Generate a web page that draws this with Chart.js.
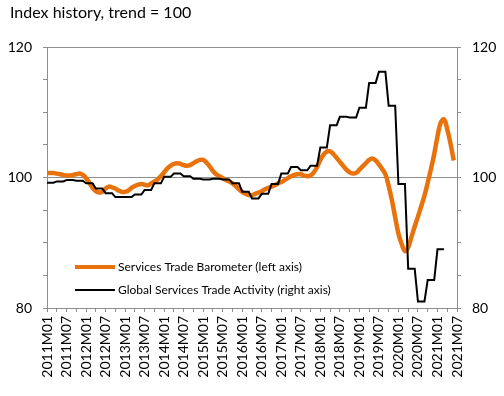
<!DOCTYPE html>
<html>
<head>
<meta charset="utf-8">
<script src="https://cdn.jsdelivr.net/npm/chart.js@4.4.0/dist/chart.umd.min.js"></script>
<style>
  body { margin: 0; background: #fff; }
  #wrap { width: 504px; height: 396px; }
</style>
</head>
<body>
<div id="wrap"><canvas id="myChart" width="504" height="396"></canvas></div>
<script>
// month labels 2011M01 .. 2021M07
const years = [2011, 2012, 2013, 2014, 2015, 2016, 2017, 2018, 2019, 2020, 2021];
const monthLabels = [];
years.forEach(y => {
  for (let m = 1; m <= 12; m++) {
    if (y === 2021 && m > 7) break;
    monthLabels.push(y + 'M' + (m < 10 ? '0' + m : m));
  }
});

// Services Trade Barometer (left axis), monthly 2011M01..2021M06
const barometer = [
  100.7, 100.7, 100.7, 100.6, 100.5, 100.4, 100.3, 100.3, 100.4, 100.5, 100.6, 100.4,
  99.9, 99.2, 98.4, 97.9, 97.7, 97.8, 98.3, 98.6, 98.5, 98.3, 98.0, 97.8,
  97.8, 98.0, 98.4, 98.7, 98.9, 99.0, 98.9, 98.8, 99.1, 99.4, 99.7, 100.2,
  100.8, 101.4, 101.8, 102.1, 102.2, 102.1, 101.9, 101.8, 101.9, 102.2, 102.5, 102.7,
  102.7, 102.3, 101.7, 101.0, 100.5, 100.2, 99.9, 99.6, 99.4, 99.1, 98.7, 98.2,
  97.8, 97.5, 97.3, 97.3, 97.5, 97.7, 97.9, 98.2, 98.4, 98.6, 98.8, 99.1,
  99.3, 99.6, 99.9, 100.2, 100.4, 100.5, 100.5, 100.3, 100.2, 100.3, 100.8, 101.6,
  102.7, 103.5, 104.0, 104.0, 103.6, 103.0, 102.4, 101.8, 101.2, 100.8, 100.6, 100.7,
  101.2, 101.7, 102.2, 102.7, 102.9, 102.6, 102.0, 101.3, 100.5, 98.7, 96.5, 93.9,
  91.4, 89.8, 88.7, 89.3, 90.9, 92.5, 94.0, 95.6, 97.2, 99.2, 101.3, 103.6,
  106.3, 108.4, 108.9, 107.4, 105.2, 102.6
];

// Global Services Trade Activity (right axis), quarterly 2011Q1..2021Q1
const activityQ = [
  99.2, 99.4, 99.6, 99.5,
  99.1, 98.3, 97.6, 97.0,
  97.0, 97.4, 98.1, 99.1,
  100.1, 100.6, 100.2, 99.8,
  99.7, 99.8, 99.7, 99.1,
  97.8, 96.8, 97.5, 99.0,
  100.6, 101.6, 101.1, 101.8,
  104.6, 108.0, 109.3, 109.2,
  110.7, 114.5, 116.2, 111.0,
  99.0, 86.0, 81.0, 84.3,
  89.0
];
// each quarter shown over its three months
const activity = activityQ.flatMap(v => [v, v, v]);

const ORANGE = '#e8720c';
const GRAY = '#8e8e8e';
const FONT = 'Lato';

const titlePlugin = {
  id: 'topTitle',
  afterDraw(chart) {
    const ctx = chart.ctx;
    ctx.save();
    ctx.font = '16px ' + FONT;
    ctx.fillStyle = '#000';
    ctx.textBaseline = 'middle';
    ctx.fillText('Index history, trend = 100', 10, 13);
    ctx.restore();
  }
};

// legend sits inside the plot area, lower left
const legendPlugin = {
  id: 'innerLegend',
  afterDraw(chart) {
    const ctx = chart.ctx;
    const rows = [0, 1];
    ctx.save();
    ctx.font = '12px ' + FONT;
    ctx.textBaseline = 'middle';
    rows.forEach((i, r) => {
      const ds = chart.data.datasets[i];
      const y = 267 + r * 23;
      ctx.strokeStyle = ds.borderColor;
      ctx.lineWidth = i === 0 ? 4 : 2;
      ctx.beginPath();
      ctx.moveTo(75, y);
      ctx.lineTo(115, y);
      ctx.stroke();
      ctx.fillStyle = '#000';
      ctx.fillText(ds.label, 118, y);
    });
    ctx.restore();
  }
};

const ctx = document.getElementById('myChart').getContext('2d');
new Chart(ctx, {
  type: 'line',
  data: {
    labels: monthLabels,
    datasets: [
      {
        label: 'Services Trade Barometer (left axis)',
        data: barometer,
        yAxisID: 'y',
        borderColor: ORANGE,
        borderWidth: 4.5,
        tension: 0.4,
        pointRadius: 0,
        order: 1
      },
      {
        label: 'Global Services Trade Activity (right axis)',
        data: activity,
        yAxisID: 'y2',
        borderColor: '#000',
        borderWidth: 2,
        tension: 0,
        pointRadius: 0,
        order: 0
      }
    ]
  },
  options: {
    responsive: false,
    devicePixelRatio: 1,
    animation: false,
    layout: { padding: { top: 47, left: 0, right: 0, bottom: 0 } },
    plugins: {
      legend: { display: false },
      title: { display: false },
      tooltip: { enabled: false }
    },
    scales: {
      x: {
        offset: false,
        border: { color: GRAY, width: 1 },
        grid: {
          drawOnChartArea: false,
          tickLength: 4,
          tickColor: c => (c.index % 3 === 0 ? GRAY : 'rgba(0,0,0,0)')
        },
        ticks: {
          autoSkip: false,
          minRotation: 90,
          maxRotation: 90,
          padding: 4,
          color: '#000',
          font: { family: FONT, size: 14 },
          callback: function (v, i) {
            return i % 6 === 0 ? this.getLabelForValue(v) : '';
          }
        },
        afterFit: s => { s.height = 88; }
      },
      y: {
        position: 'left',
        min: 80,
        max: 120,
        border: { color: GRAY, width: 1 },
        grid: {
          tickLength: 4,
          tickColor: GRAY,
          color: c => (c.tick && (c.tick.value === 100 || c.tick.value === 120) ? GRAY : 'rgba(0,0,0,0)')
        },
        ticks: {
          stepSize: 5,
          padding: 11,
          color: '#000',
          font: { family: FONT, size: 14 },
          callback: v => (v % 20 === 0 ? v : '')
        },
        afterFit: s => { s.width = 47; }
      },
      y2: {
        position: 'right',
        min: 80,
        max: 120,
        border: { color: GRAY, width: 1 },
        grid: { drawOnChartArea: false, tickLength: 4, tickColor: GRAY },
        ticks: {
          stepSize: 5,
          padding: 11,
          color: '#000',
          font: { family: FONT, size: 14 },
          callback: v => (v % 20 === 0 ? v : '')
        },
        afterFit: s => { s.width = 47; }
      }
    }
  },
  plugins: [titlePlugin, legendPlugin]
});
</script>
</body>
</html>
